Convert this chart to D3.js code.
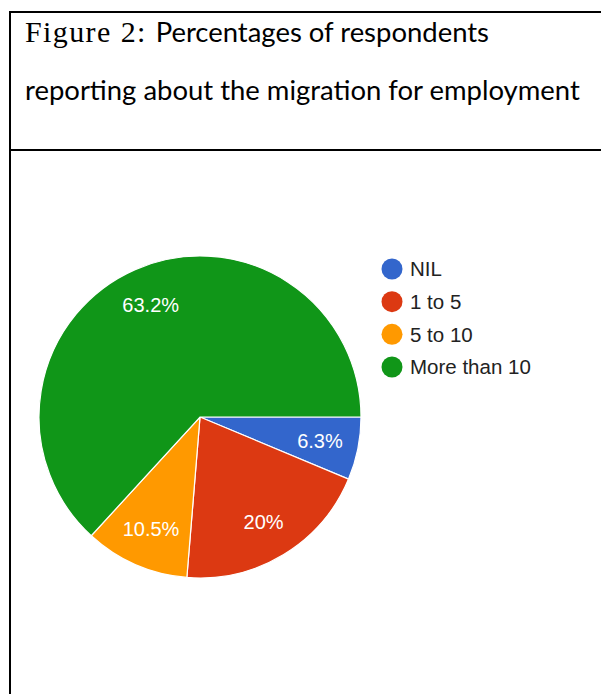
<!DOCTYPE html>
<html>
<head>
<meta charset="utf-8">
<script src="https://cdn.jsdelivr.net/npm/d3@7"></script>
<style>
  html, body { margin: 0; padding: 0; background: #fff; }
  svg { display: block; }
</style>
</head>
<body>
<div id="chart"></div>
<script>
// slices, clockwise from 3 o'clock
const categories = ["NIL", "1 to 5", "5 to 10", "More than 10"];
const values = [6.3, 20, 10.5, 63.2];
const sliceLabels = ["6.3%", "20%", "10.5%", "63.2%"];
const colors = ["#3366cc", "#dc3912", "#ff9900", "#109618"];

const titleLead = "Figure 2:";
const titleLine1 = "Percentages of respondents";
const titleLine2 = "reporting about the migration for employment";

const width = 601, height = 694;

const svg = d3.select("#chart").append("svg")
    .attr("width", width)
    .attr("height", height);

// table borders around the figure
const border = svg.append("g").attr("stroke", "#000").attr("stroke-width", 2);
border.append("line").attr("x1", 10).attr("x2", width).attr("y1", 12).attr("y2", 12);
border.append("line").attr("x1", 10).attr("x2", 10).attr("y1", 11).attr("y2", height);
border.append("line").attr("x1", 10).attr("x2", width).attr("y1", 150).attr("y2", 150);

// caption
const t1 = svg.append("text")
    .attr("x", 25)
    .attr("y", 42)
    .attr("fill", "#000");
t1.append("tspan")
    .attr("font-family", "'Liberation Serif', 'Times New Roman', serif")
    .attr("font-size", 30)
    .attr("letter-spacing", 1.4)
    .text(titleLead + " ");
const lead2 = t1.append("tspan")
    .attr("font-family", "Lato, 'Open Sans', sans-serif")
    .attr("font-size", 26)
    .text(titleLine1);

const t2 = svg.append("text")
    .attr("x", 25)
    .attr("y", 100)
    .attr("fill", "#000")
    .attr("font-family", "Lato, 'Open Sans', sans-serif")
    .attr("font-size", 26)
    .text(titleLine2);

// fit the second caption line to its width in the reference
const target = 555;
const w2 = t2.node().getComputedTextLength();
const fs = 26 * target / w2;
t2.attr("font-size", fs);
lead2.attr("font-size", fs);

// pie
const cx = 200, cy = 417, r = 161;

const pie = d3.pie()
    .sort(null)
    .value(d => d)
    .startAngle(Math.PI / 2)
    .endAngle(Math.PI / 2 + 2 * Math.PI);

const arcs = pie(values);

const arc = d3.arc().innerRadius(0).outerRadius(r);
const labelArc = d3.arc().innerRadius(r * 0.76).outerRadius(r * 0.76);

const g = svg.append("g").attr("transform", `translate(${cx},${cy})`);

g.selectAll("path.slice")
    .data(arcs)
    .join("path")
    .attr("class", "slice")
    .attr("d", arc)
    .attr("fill", (d, i) => colors[i])
    .attr("stroke", "#fff")
    .attr("stroke-width", 1.2);

g.selectAll("text.pct")
    .data(arcs)
    .join("text")
    .attr("class", "pct")
    .attr("transform", d => `translate(${labelArc.centroid(d)})`)
    .attr("text-anchor", "middle")
    .attr("dy", "0.36em")
    .attr("fill", "#fff")
    .attr("font-family", "'Liberation Sans', Arial, sans-serif")
    .attr("font-size", 20)
    .text((d, i) => sliceLabels[i]);

// legend
const legendY = d3.scalePoint()
    .domain(categories)
    .range([269, 367]);

const legend = svg.append("g").attr("class", "legend");
const item = legend.selectAll("g")
    .data(categories)
    .join("g")
    .attr("transform", d => `translate(392,${legendY(d)})`);

item.append("circle")
    .attr("r", 10.5)
    .attr("fill", (d, i) => colors[i]);

item.append("text")
    .attr("x", 18)
    .attr("dy", "0.36em")
    .attr("fill", "#222")
    .attr("font-family", "'Liberation Sans', Arial, sans-serif")
    .attr("font-size", 20.5)
    .text(d => d);
</script>
</body>
</html>
